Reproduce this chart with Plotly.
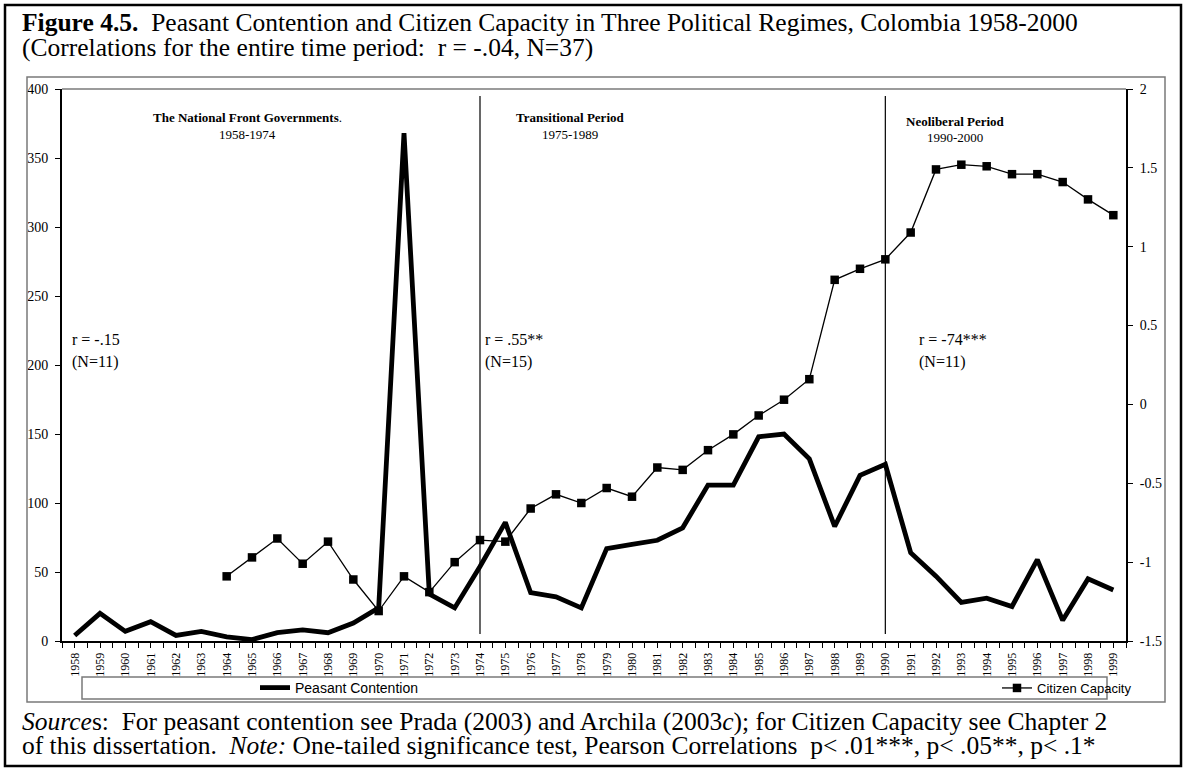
import plotly.graph_objects as go

# ---------------- data ----------------
years = list(range(1958, 2000))
peasant_contention = [4, 20, 7, 14, 4, 7, 3, 1, 6, 8, 6, 13, 24, 368, 34, 24, 54, 86,
                      35, 32, 24, 67, 70, 73, 82, 113, 113, 148, 150, 132, 83, 120, 128,
                      64, 47, 28, 31, 25, 59, 15, 45, 37]
citizen_capacity = [None, None, None, None, None, None,
                    -1.09, -0.97, -0.85, -1.01, -0.87, -1.11, -1.31, -1.09, -1.19, -1.00,
                    -0.86, -0.87, -0.66, -0.57, -0.625, -0.53, -0.585, -0.40, -0.415, -0.29,
                    -0.19, -0.07, 0.03, 0.16, 0.79, 0.86, 0.92, 1.09, 1.49, 1.52, 1.51,
                    1.46, 1.46, 1.41, 1.30, 1.20]
left_ticks = [0, 50, 100, 150, 200, 250, 300, 350, 400]
right_ticks = [-1.5, -1, -0.5, 0, 0.5, 1, 1.5, 2]
right_ticktext = ["-1.5", "-1", "-0.5", "0", "0.5", "1", "1.5", "2"]
period_breaks = [1974, 1990]
period_names = ["The National Front Governments", "Transitional Period", "Neoliberal Period"]
period_years = ["1958-1974", "1975-1989", "1990-2000"]
period_r = ["r = -.15", "r = .55**", "r = -74***"]
period_n = ["(N=11)", "(N=15)", "(N=11)"]

# ---------------- geometry helpers (pixels -> paper) ----------------
W, H = 1187, 771
L, R, T, B = 62, 1126, 89, 641


def px(x):
    return (x - L) / (R - L)


def py(y):
    return (B - y) / (B - T)


SERIF = "Liberation Serif, Times New Roman, serif"
SANS = "Liberation Sans, Arial, sans-serif"

fig = go.Figure()
fig.add_trace(go.Scatter(
    x=years, y=peasant_contention, mode="lines", name="Peasant Contention",
    line=dict(color="black", width=4.8), yaxis="y", legend="legend"))
fig.add_trace(go.Scatter(
    x=years, y=citizen_capacity, mode="lines+markers", name="Citizen Capacity",
    line=dict(color="black", width=1.3),
    marker=dict(symbol="square", size=8.5, color="black"),
    yaxis="y2", legend="legend2", connectgaps=False))

shapes = []
# outer frame
shapes.append(dict(type="rect", xref="paper", yref="paper", x0=px(5), x1=px(1181),
                   y0=py(5), y1=py(766), line=dict(color="black", width=2.5)))
# chart area box
shapes.append(dict(type="rect", xref="paper", yref="paper", x0=px(27), x1=px(1165),
                   y0=py(77), y1=py(702), line=dict(color="#7a7a7a", width=1.5)))
# legend box
shapes.append(dict(type="rect", xref="paper", yref="paper", x0=px(82), x1=px(1107),
                   y0=py(677), y1=py(699), line=dict(color="#7a7a7a", width=1.5)))
# plot top border
shapes.append(dict(type="line", xref="paper", yref="paper", x0=0, x1=1, y0=1, y1=1,
                   line=dict(color="#7a7a7a", width=1.5)))
# period separators
for yr in period_breaks:
    shapes.append(dict(type="line", xref="x", yref="y", x0=yr, x1=yr, y0=5, y1=395,
                       line=dict(color="black", width=1.2)))

annotations = []
TFS = 25.5
# title
annotations.append(dict(
    xref="paper", yref="paper", x=px(20), y=py(23), xanchor="left", yanchor="middle",
    showarrow=False, font=dict(family=SERIF, size=TFS, color="black"),
    text="<b>Figure 4.5.</b>\u00a0 Peasant Contention and Citizen Capacity in Three Political Regimes, Colombia 1958-2000"))
annotations.append(dict(
    xref="paper", yref="paper", x=px(20), y=py(47), xanchor="left", yanchor="middle",
    showarrow=False, font=dict(family=SERIF, size=TFS, color="black"),
    text="(Correlations for the entire time period:\u00a0 r = -.04, N=37)"))
# sources
annotations.append(dict(
    xref="paper", yref="paper", x=px(20), y=py(721), xanchor="left", yanchor="middle",
    showarrow=False, font=dict(family=SERIF, size=TFS, color="black"),
    text="<i>Source</i>s:\u00a0 For peasant contention see Prada (2003) and Archila (2003<i>c</i>); for Citizen Capacity see Chapter 2"))
annotations.append(dict(
    xref="paper", yref="paper", x=px(20), y=py(745), xanchor="left", yanchor="middle",
    showarrow=False, font=dict(family=SERIF, size=TFS, color="black"),
    text="of this dissertation.\u00a0 <i>Note:</i> One-tailed significance test, Pearson Correlations\u00a0 p&lt; .01***, p&lt; .05**, p&lt; .1*"))

# period labels
name_x = [247, 570, 955]
name_y = [117, 117, 121]
for i in range(3):
    nm = "<b>" + period_names[i] + "</b>" + ("." if i == 0 else "")
    annotations.append(dict(xref="paper", yref="paper", x=px(name_x[i]), y=py(name_y[i]),
                            xanchor="center", yanchor="middle", showarrow=False,
                            font=dict(family=SERIF, size=13, color="black"), text=nm))
    annotations.append(dict(xref="paper", yref="paper", x=px(name_x[i]), y=py(name_y[i] + 17),
                            xanchor="center", yanchor="middle", showarrow=False,
                            font=dict(family=SERIF, size=13, color="black"), text=period_years[i]))

r_x = [70, 483, 917]
for i in range(3):
    annotations.append(dict(xref="paper", yref="paper", x=px(r_x[i]), y=py(339),
                            xanchor="left", yanchor="middle", showarrow=False,
                            font=dict(family=SERIF, size=16, color="black"), text=period_r[i]))
    annotations.append(dict(xref="paper", yref="paper", x=px(r_x[i]), y=py(362),
                            xanchor="left", yanchor="middle", showarrow=False,
                            font=dict(family=SERIF, size=16, color="black"), text=period_n[i]))

fig.update_layout(
    width=W, height=H, autosize=False,
    margin=dict(l=L, r=W - R, t=T, b=H - B, pad=0),
    paper_bgcolor="white", plot_bgcolor="white",
    font=dict(family=SERIF, color="black"),
    showlegend=True,
    xaxis=dict(
        range=[1957.5, 1999.5], tickmode="array", tickvals=years,
        ticktext=[str(y) for y in years], tickangle=-90,
        ticks="outside", ticklen=5, tickwidth=1, tickcolor="black",
        minor=dict(tickmode="array", tickvals=[y + 0.5 for y in range(1957, 2000)],
                   ticks="outside", ticklen=5, tickwidth=1, tickcolor="black", showgrid=False),
        showline=True, linecolor="black", linewidth=2, showgrid=False, zeroline=False,
        tickfont=dict(family=SERIF, size=12, color="black")),
    yaxis=dict(
        range=[0, 400], tickmode="array", tickvals=left_ticks,
        ticks="outside", ticklen=5, tickwidth=1, tickcolor="black",
        showline=True, linecolor="black", linewidth=2, showgrid=False, zeroline=False,
        tickfont=dict(family=SERIF, size=14, color="black"), ticklabelstandoff=4),
    yaxis2=dict(
        range=[-1.5, 2], overlaying="y", side="right", anchor="x",
        tickmode="array", tickvals=right_ticks, ticktext=right_ticktext,
        ticks="outside", ticklen=5, tickwidth=1, tickcolor="black",
        showline=True, linecolor="black", linewidth=2, showgrid=False, zeroline=False,
        tickfont=dict(family=SERIF, size=14, color="black"), ticklabelstandoff=4),
    legend=dict(x=px(255), y=py(688), xanchor="left", yanchor="middle",
                orientation="h", bgcolor="rgba(0,0,0,0)", borderwidth=0,
                font=dict(family=SANS, size=14, color="black")),
    legend2=dict(x=px(997), y=py(688), xanchor="left", yanchor="middle",
                 orientation="h", bgcolor="rgba(0,0,0,0)", borderwidth=0,
                 font=dict(family=SANS, size=13, color="black")),
    shapes=shapes,
    annotations=annotations,
)

fig.write_html("out.html", config={"displayModeBar": False},
               post_script="document.body.style.margin='0';")
